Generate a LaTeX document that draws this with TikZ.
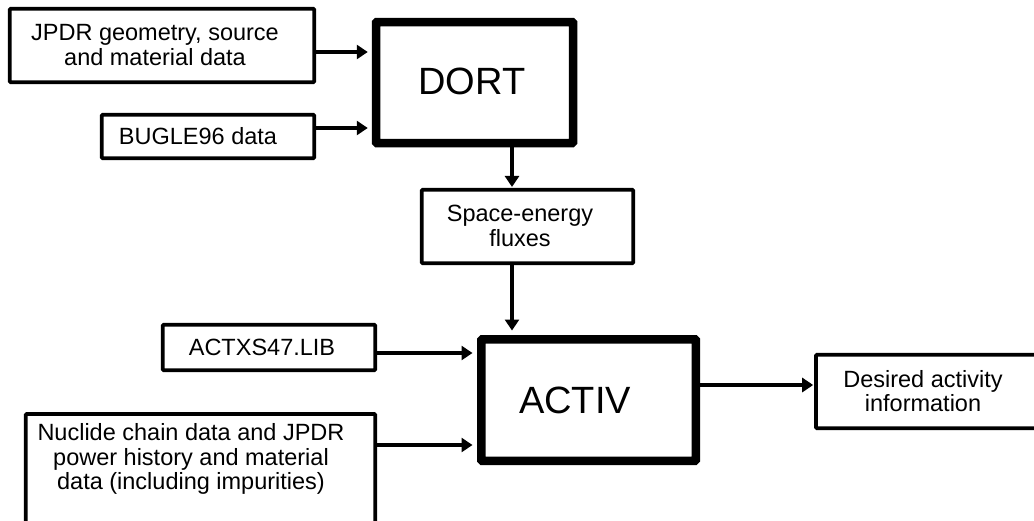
\documentclass[tikz,border=0pt]{standalone}
\usepackage{fontspec}
\setmainfont{Liberation Sans}
\usetikzlibrary{arrows.meta}
\begin{document}
\begin{tikzpicture}[x=1pt,y=-1pt,
  thinbox/.style={draw=black,line width=3.6pt,fill=white,inner sep=0pt,rounded corners=1pt},
  thickbox/.style={draw=black,line width=8.5pt,fill=white,inner sep=0pt,rounded corners=1pt},
  txt/.style={align=center,inner sep=0pt,font=\fontsize{23.5}{24.5}\selectfont},
  bigtxt/.style={inner sep=0pt,font=\fontsize{38}{40}\selectfont},
  arr/.style={line width=4.6pt,-{Triangle[length=11pt,width=14pt]}}]
\useasboundingbox[fill=white] (0,0) rectangle (1034,520);
\begin{scope}
\clip (0,0) rectangle (1034,520);
% boxes
\node[thinbox,minimum width=304.5pt,minimum height=73.5pt] (b1) at (162,45.5) {};
\node[thinbox,minimum width=212.5pt,minimum height=43.5pt] (bugle) at (208,136.5) {};
\node[thickbox,minimum width=197pt,minimum height=121pt] (dort) at (474.5,82.5) {};
\node[thinbox,minimum width=211.5pt,minimum height=73.5pt] (space) at (527.5,226.5) {};
\node[thinbox,minimum width=212.5pt,minimum height=45.5pt] (actxs) at (269,347.5) {};
\node[thinbox,minimum width=349.5pt,minimum height=114pt] (nuc) at (200.5,471) {};
\node[thickbox,minimum width=214.5pt,minimum height=121.5pt] (activ) at (588.5,400) {};
\node[thinbox,minimum width=226pt,minimum height=73.5pt] (des) at (929,391.5) {};
% texts
\node[txt] (t1) at (155,45) {JPDR geometry, source\\and material data};
\node[txt] (t2) at (198,136) {BUGLE96 data};
\node[bigtxt] (t3) at (472,81) {DORT};
\node[txt] (t4) at (520,226) {Space-energy\\fluxes};
\node[txt] (t5) at (262,347) {ACTXS47.LIB};
\node[txt] (t6) at (191,459) {Nuclide chain data and JPDR\\power history and material\\data (including impurities)};
\node[bigtxt] (t7) at (575,400) {ACTIV};
\node[txt] (t8) at (923,391) {Desired activity\\information};
\end{scope}
% connectors
\draw[arr,shorten >=4pt] (b1.east |- 0,52) -- (dort.west |- 0,52);
\draw[arr,shorten >=4pt] (bugle.east |- 0,128) -- (dort.west |- 0,128);
\draw[arr,shorten >=1pt] (dort.south -| 512,0) -- (space.north -| 512,0);
\draw[arr,shorten >=4.5pt] (space.south -| 512,0) -- (activ.north -| 512,0);
\draw[arr,shorten >=4.5pt] (actxs.east |- 0,353) -- (activ.west |- 0,353);
\draw[arr,shorten >=4.5pt] (nuc.east |- 0,445) -- (activ.west |- 0,445);
\draw[arr,shorten >=1pt] (activ.east |- 0,385) -- (des.west |- 0,385);
\end{tikzpicture}
\end{document}
